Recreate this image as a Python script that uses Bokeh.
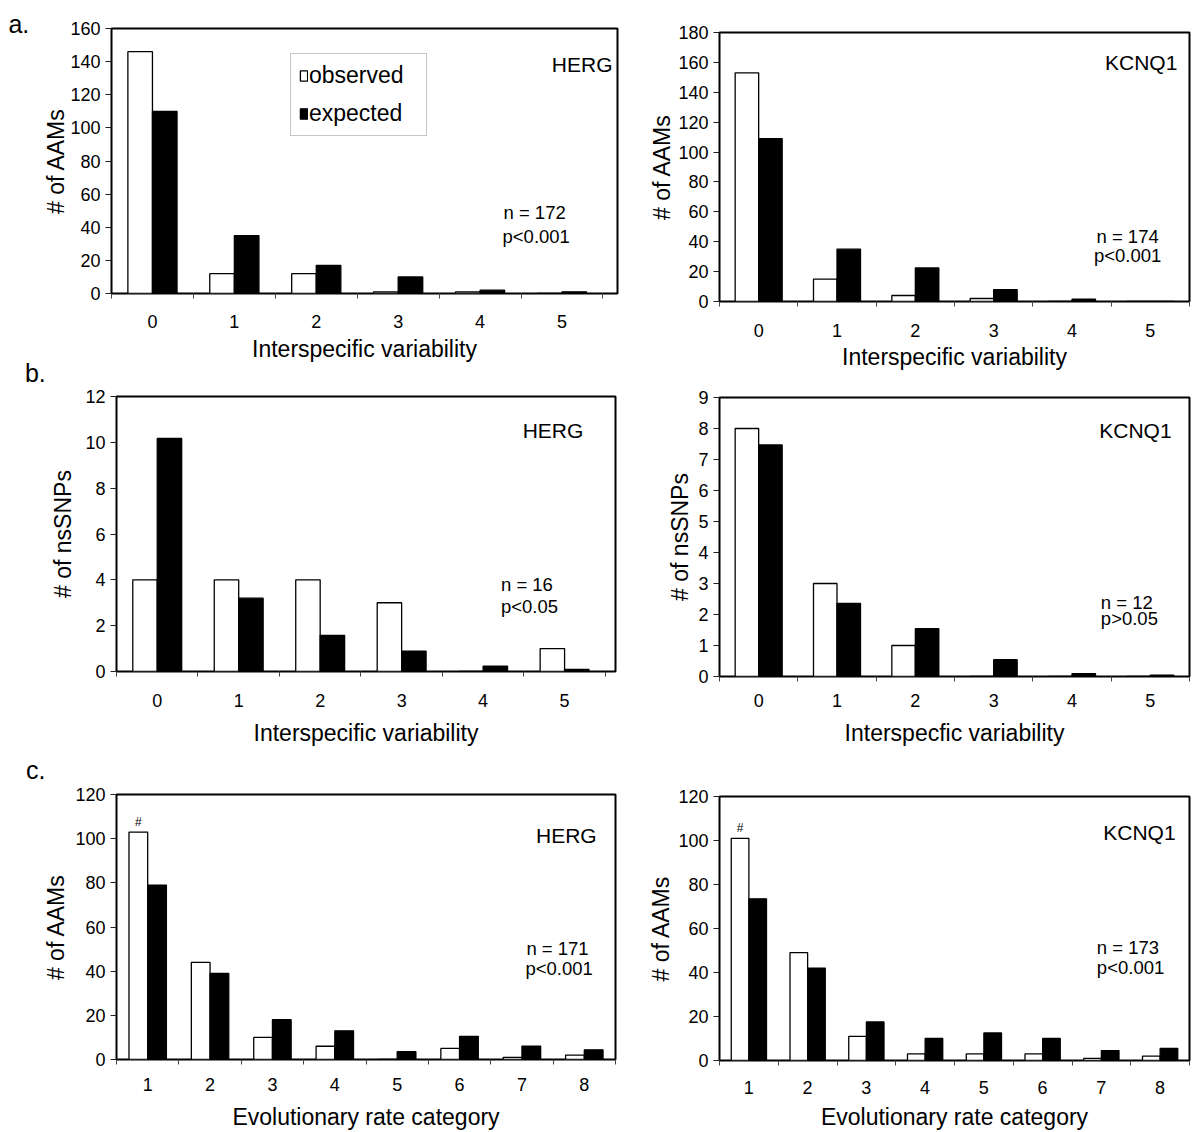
import math
from bokeh.plotting import figure
from bokeh.models import (Range1d, FixedTicker, SingleIntervalTicker, Label,
                          Legend, LegendItem, ColumnDataSource, Div)
from bokeh.layouts import column, row
from bokeh.transform import dodge
from bokeh.embed import file_html
from bokeh.resources import INLINE
from bokeh.core.properties import value

FONT = "Liberation Sans"

# ---------------- data ----------------
variability = [0, 1, 2, 3, 4, 5]
rate_category = [1, 2, 3, 4, 5, 6, 7, 8]

aam_var_herg_obs = [146, 12, 12, 1, 1, 0]
aam_var_herg_exp = [110, 35, 17, 10, 2, 1]
aam_var_kcnq1_obs = [153, 15, 4, 2, 0, 0]
aam_var_kcnq1_exp = [109, 35, 22.5, 8, 1.5, 0]

snp_var_herg_obs = [4, 4, 4, 3, 0, 1]
snp_var_herg_exp = [10.17, 3.2, 1.58, 0.89, 0.23, 0.09]
snp_var_kcnq1_obs = [8, 3, 1, 0, 0, 0]
snp_var_kcnq1_exp = [7.47, 2.36, 1.54, 0.54, 0.09, 0.04]

aam_rate_herg_obs = [103, 44, 10, 6, 0, 5, 1, 2]
aam_rate_herg_exp = [79, 39, 18, 13, 3.5, 10.5, 6, 4.4]
aam_rate_kcnq1_obs = [101, 49, 11, 3, 3, 3, 1, 2]
aam_rate_kcnq1_exp = [73.5, 42, 17.5, 10, 12.5, 10, 4.5, 5.5]

series_labels = ["observed", "expected"]
x_titles = ["Interspecific variability", "Interspecfic variability",
            "Evolutionary rate category"]
y_titles = ["# of AAMs", "# of nsSNPs"]
genes = ["HERG", "KCNQ1"]
stats = {
    "aL": ["n = 172", "p<0.001"], "aR": ["n = 174", "p<0.001"],
    "bL": ["n = 16", "p<0.05"], "bR": ["n = 12", "p>0.05"],
    "cL": ["n = 171", "p<0.001"], "cR": ["n = 173", "p<0.001"],
}
panel_letters = ["a.", "b.", "c."]
marker_text = "#"

# ---------------- layout (page pixel geometry) ----------------
# canvas: (left, top, right, bottom); frame: (left, top, right, bottom)
panels = [
    dict(key="aL", cats=variability, obs=aam_var_herg_obs, exp=aam_var_herg_exp,
         canvas=(40, 0, 636, 364), frame=(111, 28, 617, 294), xr=(-0.5, 5.678),
         ymax=160, step=20, xstand=16, xals=5, yals=-2,
         ytitle=y_titles[0], xtitle=x_titles[0], gene=genes[0],
         gpos=(612, 64), npos=(503, 212.5), ppos=(502, 236.6)),
    dict(key="bL", cats=variability, obs=snp_var_herg_obs, exp=snp_var_herg_exp,
         canvas=(0, 384, 636, 748), frame=(116, 396, 617, 672), xr=(-0.5, 5.625),
         ymax=12, step=2, xstand=17, xals=10, yals=6,
         ytitle=y_titles[1], xtitle=x_titles[0], gene=genes[0],
         gpos=(584.7, 430), npos=(502, 585), ppos=(502, 606.6)),
    dict(key="cL", cats=rate_category, obs=aam_rate_herg_obs, exp=aam_rate_herg_exp,
         canvas=(0, 782, 636, 1132), frame=(111, 794, 615, 1059), xr=(0.5, 8.5),
         ymax=120, step=20, xstand=13, xals=10, yals=3,
         ytitle=y_titles[0], xtitle=x_titles[2], gene=genes[0],
         gpos=(596, 835), npos=(525, 948), ppos=(524, 968.3)),
    dict(key="aR", cats=variability, obs=aam_var_kcnq1_obs, exp=aam_var_kcnq1_exp,
         canvas=(636, 0, 1200, 372), frame=(713, 32, 1198, 302), xr=(-0.5, 5.5),
         ymax=180, step=20, xstand=17, xals=4, yals=0,
         ytitle=y_titles[0], xtitle=x_titles[0], gene=genes[1],
         gpos=(1185.5, 62.5), npos=(1102, 236.5), ppos=(1099.4, 256.3)),
    dict(key="bR", cats=variability, obs=snp_var_kcnq1_obs, exp=snp_var_kcnq1_exp,
         canvas=(636, 372, 1200, 748), frame=(719, 397, 1194, 676), xr=(-0.5, 5.5),
         ymax=9, step=1, xstand=12, xals=10, yals=2,
         ytitle=y_titles[1], xtitle=x_titles[1], gene=genes[1],
         gpos=(1175.9, 430), npos=(1104.4, 601.7), ppos=(1104.4, 618.3)),
    dict(key="cR", cats=rate_category, obs=aam_rate_kcnq1_obs, exp=aam_rate_kcnq1_exp,
         canvas=(636, 748, 1200, 1132), frame=(709, 796, 1189, 1060), xr=(0.5, 8.5),
         ymax=120, step=20, xstand=15, xals=7, yals=1,
         ytitle=y_titles[0], xtitle=x_titles[2], gene=genes[1],
         gpos=(1174.8, 831.7), npos=(1094.4, 946.7), ppos=(1094.4, 966.6)),
]


def to_data(spec, px, py):
    fl, ft, fr, fb = spec["frame"]
    x0, x1 = spec["xr"]
    y0, y1 = 0, spec["ymax"]
    return (x0 + (px - fl) / (fr - fl) * (x1 - x0),
            y1 - (py - ft) / (fb - ft) * (y1 - y0))


def add_label(p, spec, text, px, py, size, align, baseline="alphabetic"):
    x, y = to_data(spec, px, py)
    p.add_layout(Label(x=x, y=y, text=text, text_font=FONT, text_font_size=size,
                       text_align=align, text_baseline=baseline, text_color="black"))


def make_panel(spec):
    cl, ct, cr, cb = spec["canvas"]
    fl, ft, fr, fb = spec["frame"]
    p = figure(width=cr - cl, height=cb - ct, output_backend="svg",
               toolbar_location=None,
               x_range=Range1d(*spec["xr"]), y_range=Range1d(0, spec["ymax"]),
               min_border_left=fl - cl, min_border_right=cr - fr,
               min_border_top=ft - ct, min_border_bottom=cb - fb)
    p.xgrid.visible = False
    p.ygrid.visible = False
    p.background_fill_color = "white"
    p.border_fill_color = "white"
    p.outline_line_color = "black"
    p.outline_line_width = 2

    src = ColumnDataSource(dict(cat=spec["cats"], obs=spec["obs"], exp=spec["exp"]))
    r_obs = p.vbar(x=dodge("cat", -0.15, range=p.x_range), top="obs", bottom=0,
                   width=0.3, source=src, fill_color="white", line_color="black",
                   line_width=1.3)
    r_exp = p.vbar(x=dodge("cat", 0.15, range=p.x_range), top="exp", bottom=0,
                   width=0.3, source=src, fill_color="black", line_color="black",
                   line_width=1.3)

    cats = spec["cats"]
    xa = p.xaxis[0]
    xa.ticker = FixedTicker(ticks=cats,
                            minor_ticks=[c - 0.5 for c in cats] + [cats[-1] + 0.5])
    xa.major_tick_out = 0
    xa.major_tick_in = 0
    xa.minor_tick_out = 5
    xa.minor_tick_in = 0
    xa.minor_tick_line_color = "#444444"
    xa.axis_line_color = None
    xa.major_label_standoff = spec["xstand"]
    xa.major_label_text_font = FONT
    xa.major_label_text_font_size = "18px"
    xa.major_label_text_color = "black"
    xa.axis_label = spec["xtitle"]
    xa.axis_label_standoff = spec["xals"]
    xa.axis_label_text_font = FONT
    xa.axis_label_text_font_size = "23px"
    xa.axis_label_text_font_style = "normal"
    xa.axis_label_text_color = "black"

    ya = p.yaxis[0]
    ya.ticker = SingleIntervalTicker(interval=spec["step"], num_minor_ticks=0)
    ya.major_tick_out = 6
    ya.major_tick_in = 0
    ya.minor_tick_out = 0
    ya.minor_tick_in = 0
    ya.major_tick_line_color = "#222222"
    ya.axis_line_color = None
    ya.major_label_standoff = 5
    ya.major_label_text_font = FONT
    ya.major_label_text_font_size = "18px"
    ya.major_label_text_color = "black"
    ya.axis_label = spec["ytitle"]
    ya.axis_label_standoff = spec["yals"]
    ya.axis_label_text_font = FONT
    ya.axis_label_text_font_size = "23px"
    ya.axis_label_text_font_style = "normal"
    ya.axis_label_text_color = "black"

    # in-frame texts
    add_label(p, spec, spec["gene"], spec["gpos"][0], spec["gpos"][1], "21px", "right")
    n_txt, p_txt = stats[spec["key"]]
    add_label(p, spec, n_txt, spec["npos"][0], spec["npos"][1], "18.5px", "left")
    add_label(p, spec, p_txt, spec["ppos"][0], spec["ppos"][1], "18.5px", "left")

    if spec["key"] in ("cL", "cR"):
        msrc = ColumnDataSource(dict(x=[cats[0]], y=[spec["obs"][0]], t=[marker_text]))
        p.text(x=dodge("x", -0.15, range=p.x_range), y="y", text="t", source=msrc,
               text_font=value(FONT), text_font_size=value("12px"),
               text_align="center", text_baseline="middle", y_offset=-10,
               text_color="black")

    if spec["key"] == "aL":
        legend = Legend(items=[LegendItem(label=series_labels[0], renderers=[r_obs]),
                               LegendItem(label=series_labels[1], renderers=[r_exp])],
                        location=(290 - fl, fb - 136.7))
        legend.margin = 0
        legend.padding = 8
        legend.spacing = 11
        legend.glyph_width = 9
        legend.glyph_height = 13
        legend.label_standoff = 1
        legend.label_width = 109
        legend.label_text_font = FONT
        legend.label_text_font_size = "23px"
        legend.label_text_color = "black"
        legend.border_line_color = "#8c8c8c"
        legend.border_line_width = 1
        legend.background_fill_color = "white"
        legend.background_fill_alpha = 1
        p.add_layout(legend)
    return p


def letter_div(text, box, left, baseline):
    # box: (left, top, right, bottom) in page px; glyph placed by its baseline
    bl, bt, br, bb = box
    top = baseline - 21.2 - bt
    html = ('<div style="position:relative;width:%dpx;height:%dpx;overflow:visible;">'
            '<span style="position:absolute;left:%.1fpx;top:%.1fpx;'
            'font-family:\'Liberation Sans\';font-size:25px;line-height:25px;'
            'color:black;white-space:nowrap;">%s</span></div>'
            % (br - bl, bb - bt, left - bl, top, text))
    return Div(text=html, width=br - bl, height=bb - bt, margin=0)


figs = {s["key"]: make_panel(s) for s in panels}

div_a = letter_div(panel_letters[0], (0, 0, 40, 364), 8.4, 33)
div_b = letter_div(panel_letters[1], (0, 364, 636, 384), 24.9, 382)
div_c = letter_div(panel_letters[2], (0, 748, 636, 782), 26, 779.5)

left_col = column(row(div_a, figs["aL"]), div_b, figs["bL"], div_c, figs["cL"])
right_col = column(figs["aR"], figs["bR"], figs["cR"])
layout = row(left_col, right_col)

open("out.html", "w").write(file_html(layout, INLINE))
